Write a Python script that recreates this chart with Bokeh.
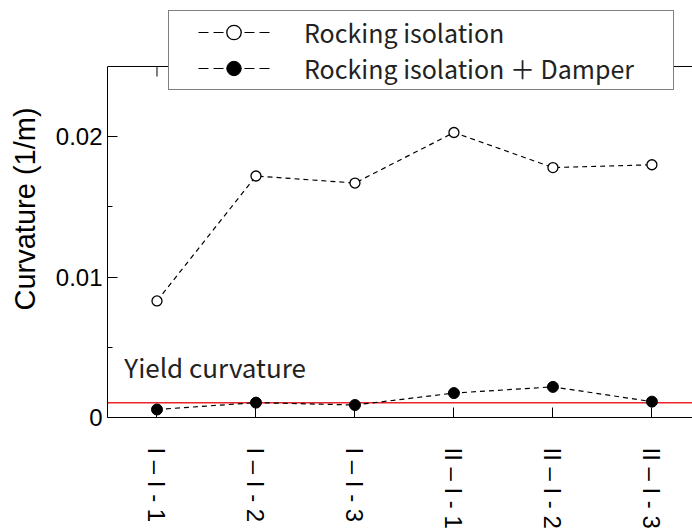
import math
from bokeh.plotting import figure
from bokeh.models import (Range1d, LinearAxis, FixedTicker, NumeralTickFormatter,
                          Span, Label, Legend, LegendItem, ColumnDataSource)
from bokeh.embed import file_html
from bokeh.resources import INLINE

# ---- data ----
categories = ["I – I - 1", "I – I - 2", "I – I - 3", "II – I - 1", "II – I - 2", "II – I - 3"]
rocking = [0.0083, 0.0172, 0.0167, 0.0203, 0.0178, 0.0180]
rocking_damper = [0.00057, 0.00106, 0.00089, 0.00174, 0.00218, 0.00113]
yield_curvature = 0.00105
series_names = ["Rocking isolation", "Rocking isolation ＋ Damper"]
y_ticks = [0, 0.01, 0.02]
y_minor_ticks = [0.005, 0.015]
y_axis_top = 0.025
y_title = "Curvature (1/m)"
yield_text = "Yield curvature"

# ---- layout / style constants ----
X_START, X_END = 0.5, 6.41
Y_START, Y_END = 0.0, 0.0297      # extra headroom holds the legend above the axis box
YIELD_LABEL_X, YIELD_LABEL_Y = 0.67, 0.0036
LATIN = "Liberation Sans"
JP = "Noto Sans CJK JP"

xs = list(range(1, len(categories) + 1))
src = ColumnDataSource(dict(x=xs, rocking=rocking, damper=rocking_damper))

p = figure(width=692, height=531, x_range=Range1d(X_START, X_END),
           y_range=Range1d(Y_START, Y_END), output_backend="svg",
           toolbar_location=None, x_axis_type=None, y_axis_type=None,
           min_border_left=107, min_border_right=0, min_border_top=0,
           min_border_bottom=114)
p.outline_line_color = None
p.background_fill_color = "white"
p.border_fill_color = "white"

# left axis
yax = LinearAxis(ticker=FixedTicker(ticks=y_ticks, minor_ticks=y_minor_ticks),
                 formatter=NumeralTickFormatter(format="0.[00]"),
                 axis_label=y_title, bounds=(0, y_axis_top))
yax.major_tick_in = 10
yax.major_tick_out = 0
yax.minor_tick_in = 5
yax.minor_tick_out = 0
yax.axis_line_color = "black"
yax.major_tick_line_color = "black"
yax.minor_tick_line_color = "black"
yax.major_label_text_font = LATIN
yax.major_label_text_font_size = "24px"
yax.major_label_text_color = "black"
yax.major_label_standoff = 5
yax.axis_label_text_font = LATIN
yax.axis_label_text_font_size = "29px"
yax.axis_label_text_font_style = "normal"
yax.axis_label_text_color = "black"
yax.axis_label_standoff = 12
p.add_layout(yax, "left")

# bottom axis
xax = LinearAxis(ticker=FixedTicker(ticks=xs),
                 major_label_overrides={x: c for x, c in zip(xs, categories)},
                 major_label_orientation="vertical")
xax.major_tick_in = 10
xax.major_tick_out = 0
xax.minor_tick_line_color = None
xax.axis_line_color = "black"
xax.major_tick_line_color = "black"
xax.major_label_text_font = LATIN
xax.major_label_text_font_size = "24px"
xax.major_label_text_color = "black"
xax.major_label_standoff = 30
p.add_layout(xax, "below")

# top border of the axis box with inward ticks
p.add_layout(Span(location=y_axis_top, dimension="width", line_color="black",
                  line_width=1, level="underlay"))
p.ray(x=xs, y=y_axis_top, length=10, length_units="screen", angle=-math.pi / 2,
      line_color="black", line_width=1)

# yield curvature line
p.add_layout(Span(location=yield_curvature, dimension="width", line_color="#e8242c",
                  line_width=1.5, level="underlay"))
p.add_layout(Label(x=YIELD_LABEL_X, y=YIELD_LABEL_Y, text=yield_text,
                   text_font=JP, text_font_size="26px", text_color="#222222",
                   text_baseline="alphabetic"))

# series
p.line("x", "rocking", source=src, line_color="black", line_width=1.2, line_dash="5 4")
p.scatter("x", "rocking", source=src, marker="circle", size=10, fill_color="white",
          line_color="black", line_width=1.3)
p.line("x", "damper", source=src, line_color="black", line_width=1.2, line_dash="5 4")
p.scatter("x", "damper", source=src, marker="circle", size=11, fill_color="black",
          line_color="black", line_width=1.0)

# legend-only glyphs (no visible data)
LEG_DASH = "0 26 10 5 10 3 15 3 10 5 10 26"
dl1 = p.line(x=[math.nan], y=[math.nan], line_color="black", line_width=1.2, line_dash=LEG_DASH)
ds1 = p.scatter(x=[math.nan], y=[math.nan], marker="circle", size=13, fill_color="white",
                line_color="black", line_width=1.3)
dl2 = p.line(x=[math.nan], y=[math.nan], line_color="black", line_width=1.2, line_dash=LEG_DASH)
ds2 = p.scatter(x=[math.nan], y=[math.nan], marker="circle", size=14, fill_color="black",
                line_color="black", line_width=1.0)

legend = Legend(items=[LegendItem(label=series_names[0], renderers=[dl1, ds1]),
                       LegendItem(label=series_names[1], renderers=[dl2, ds2])],
                location=(61, 327), glyph_width=123, glyph_height=36,
                label_height=36, label_width=366, label_standoff=9,
                padding=3, spacing=0, margin=0,
                border_line_color="black", border_line_width=1,
                background_fill_color="white", background_fill_alpha=1.0,
                label_text_font=JP, label_text_font_size="25px",
                label_text_color="#222222")
p.add_layout(legend, "center")

open("out.html", "w").write(file_html(p, INLINE))
